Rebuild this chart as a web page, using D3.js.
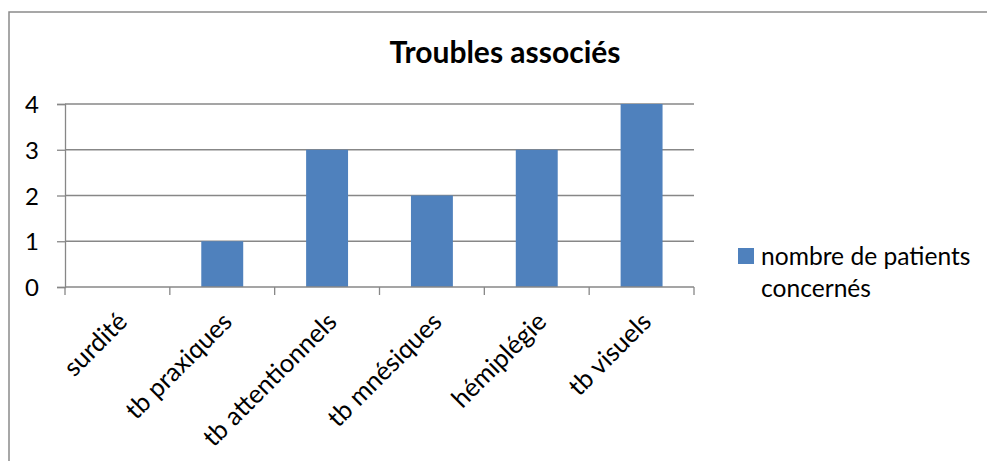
<!DOCTYPE html>
<html><head><meta charset="utf-8">
<script src="https://cdn.jsdelivr.net/npm/d3@7"></script>
<style>
html,body{margin:0;padding:0;background:#fff;}
text{font-family:Lato,"Open Sans",sans-serif;fill:#000;}
</style></head>
<body><svg id="c" width="987" height="461"></svg>
<script>
const categories = ["surdité","tb praxiques","tb attentionnels","tb mnésiques","hémiplégie","tb visuels"];
const values = [0,1,3,2,3,4];
const yTicks = [0,1,2,3,4];
const seriesName = ["nombre de patients","concernés"];
const title = "Troubles associés";

const svg = d3.select("#c");
const L=65, R=694, T=104, B=287;
const gridColor="#878787", barColor="#4f81bd";

svg.append("rect").attr("x",9).attr("y",12).attr("width",1100).attr("height",600)
  .attr("fill","#fff").attr("stroke","#8a8a8a").attr("stroke-width",1.5);

const x = d3.scaleBand().domain(categories).range([L,R]).paddingInner(0.6).paddingOuter(0.3);
const y = d3.scaleLinear().domain([0,4]).range([B,T]);

// gridlines
svg.append("g").selectAll("line").data(yTicks.filter(d=>d>0)).join("line")
  .attr("x1",L).attr("x2",R).attr("y1",d=>y(d)).attr("y2",d=>y(d))
  .attr("stroke",gridColor).attr("stroke-width",1.3);

// y axis
const yAxis = svg.append("g").attr("transform",`translate(${L},0)`)
  .call(d3.axisLeft(y).tickValues(yTicks).tickSize(8).tickPadding(18).tickFormat(d3.format("d")));
yAxis.select(".domain").attr("stroke",gridColor).attr("stroke-width",1.3);
yAxis.selectAll(".tick line").attr("stroke",gridColor).attr("stroke-width",1.3);
yAxis.selectAll(".tick text").style("font-family","Lato").style("font-size","24px").attr("dy","0.36em");

// bars
svg.append("g").selectAll("rect").data(categories).join("rect")
  .attr("x",d=>x(d)).attr("width",x.bandwidth())
  .attr("y",(d,i)=>y(values[i])).attr("height",(d,i)=>y(0)-y(values[i]))
  .attr("fill",barColor);

// x axis
const step = x.step();
const bounds = categories.map(d=>x(d)-step*0.3).concat([R]);
svg.append("line").attr("x1",L).attr("x2",R).attr("y1",B).attr("y2",B)
  .attr("stroke",gridColor).attr("stroke-width",1.3);
svg.append("g").selectAll("line").data(bounds).join("line")
  .attr("x1",d=>d).attr("x2",d=>d).attr("y1",B).attr("y2",B+8)
  .attr("stroke",gridColor).attr("stroke-width",1.3);

svg.append("g").selectAll("text").data(categories).join("text")
  .attr("transform",d=>`translate(${x(d)+x.bandwidth()/2+5},${B+30}) rotate(-45)`)
  .attr("text-anchor","end").attr("dy","0.35em")
  .style("font-size","25.5px").text(d=>d);

// title
svg.append("text").attr("x",505).attr("y",63).attr("text-anchor","middle")
  .style("font-size","30px").style("font-weight","bold").text(title);

// legend
svg.append("rect").attr("x",738).attr("y",248).attr("width",16).attr("height",16).attr("fill",barColor);
svg.append("g").selectAll("text").data(seriesName).join("text")
  .attr("x",761).attr("y",(d,i)=>265+i*32).style("font-size","24.6px").text(d=>d);
</script></body></html>
